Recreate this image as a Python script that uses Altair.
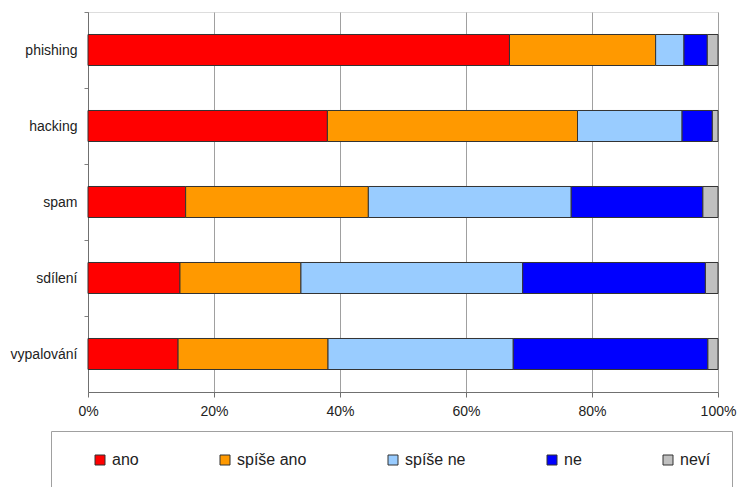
import altair as alt
import pandas as pd

categories = ["phishing", "hacking", "spam", "sdílení", "vypalování"]
answers = ["ano", "spíše ano", "spíše ne", "ne", "neví"]
colors = ["#FF0000", "#FF9900", "#99CCFF", "#0000FF", "#C0C0C0"]

ano = [66.9, 38.0, 15.5, 14.6, 14.3]
spise_ano = [23.2, 39.7, 29.0, 19.2, 23.8]
spise_ne = [4.5, 16.6, 32.2, 35.2, 29.4]
ne = [3.7, 4.8, 20.9, 29.0, 30.9]
nevi = [1.7, 0.9, 2.4, 2.0, 1.6]

series = [ano, spise_ano, spise_ne, ne, nevi]
rows = []
for ai, (a, vals) in enumerate(zip(answers, series)):
    for c, v in zip(categories, vals):
        rows.append({"kategorie": c, "odpoved": a, "poradi": ai, "hodnota": v})
df = pd.DataFrame(rows)

FONT = "Liberation Sans"

chart = alt.Chart(df).mark_bar(stroke="#333333", strokeWidth=1).encode(
    y=alt.Y("kategorie:N", sort=categories,
            scale=alt.Scale(paddingInner=0.592, paddingOuter=0.296),
            axis=alt.Axis(title=None, labelFont=FONT, labelFontSize=14, labelColor="#222222",
                          tickSize=4, tickColor="#808080", tickOffset=-38, labelOffset=38,
                          labelPadding=7, domainColor="#707070", grid=False)),
    x=alt.X("hodnota:Q", stack="normalize",
            scale=alt.Scale(domain=[0, 1], nice=False),
            axis=alt.Axis(title=None, format=".0%", values=[0, 0.2, 0.4, 0.6, 0.8, 1.0],
                          labelFont=FONT, labelFontSize=14, labelColor="#222222",
                          labelFlush=False, labelOverlap=False,
                          tickSize=5, tickColor="#707070", labelPadding=7,
                          domainColor="#707070", gridColor="#A0A0A0", grid=True)),
    color=alt.Color("odpoved:N", sort=answers,
                    scale=alt.Scale(domain=answers, range=colors),
                    legend=alt.Legend(title="\u00a0", titleOrient="left", titleFontSize=1,
                                      titlePadding=20,
                                      orient="none", legendX=-37, legendY=419,
                                      direction="horizontal", columns=5,
                                      columnPadding=78, labelOffset=4,
                                      symbolType="square", symbolSize=100,
                                      symbolStrokeColor="#333333", symbolStrokeWidth=1,
                                      labelFont=FONT, labelFontSize=16, labelColor="#222222",
                                      strokeColor="#A0A0A0", padding=21)),
    order=alt.Order("poradi:Q"),
).properties(
    width=630, height=380,
    autosize=alt.AutoSizeParams(type="none"),
    padding={"left": 88, "top": 12, "right": 23, "bottom": 95},
).configure_view(
    stroke="#909090", strokeWidth=1
).configure(background="white")

chart.save("out.html", embed_options={"renderer": "svg", "actions": False})
